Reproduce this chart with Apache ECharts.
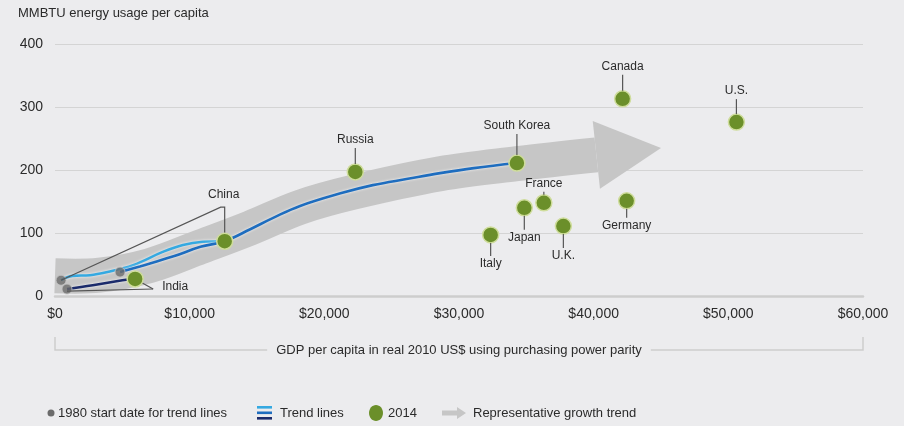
<!DOCTYPE html>
<html>
<head>
<meta charset="utf-8">
<script src="https://cdn.jsdelivr.net/npm/echarts@6/dist/echarts.min.js"></script>
<style>
  html, body { margin: 0; padding: 0; background: #ececee; }
  #chart { width: 904px; height: 426px; }
</style>
</head>
<body>
<div id="chart"></div>
<script>
// ---- Data -------------------------------------------------------------
// 2014 points: GDP per capita (real 2010 US$, PPP) and energy use (MMBTU per capita)
const countries  = ['India', 'China', 'Russia', 'South Korea', 'Canada', 'U.S.', 'Germany', 'France', 'Japan', 'U.K.', 'Italy'];
const gdp2014    = [5950, 12600, 22300, 34300, 42150, 50600, 42450, 36300, 34850, 37750, 32350];
const energy2014 = [27, 87, 197, 211, 313, 276, 151, 148, 140, 111, 97];

// Trend lines, 1980 -> 2014
const chinaGdp    = [450, 1300, 2600, 3900, 5800, 8000, 9500, 11000, 12600];
const chinaEnergy = [25, 32, 33, 38, 49, 70, 81, 86, 87];
const koreaGdp    = [4830, 6300, 8800, 10800, 12600, 14500, 16200, 18200, 21200, 23600, 26200, 28600, 31100, 34300];
const koreaEnergy = [38, 47, 63, 78, 87, 106, 124, 143, 163, 176, 186, 195, 203, 211];
const indiaGdp    = [890, 2800, 5000, 5950];
const indiaEnergy = [11, 17, 25, 27];

// Representative growth trend (centre of the wide arrow) and its tip
const growthGdp    = [0, 3300, 7000, 10800, 14500, 18200, 22200, 28600, 34300, 40200];
const growthEnergy = [32, 33, 48, 78, 108, 141, 165, 194, 210, 224];
const growthTip    = [45000, 235];

// Axis ticks
const xMax = 60000, xStep = 10000;
const yMax = 400, yStep = 100;

// ---- Styling ------------------------------------------------------------
const BG = '#ececee';
const TEXT = '#2b2b2b';
const GREEN = '#6b8f2a';
const GREEN_EDGE = '#cfdd9c';
const LIGHT_BLUE = '#35a9e1';
const MID_BLUE = '#1e6dbf';
const NAVY = '#1b2b6b';
const BAND = '#c6c6c6';
const START_DOT = '#6b6b6b';
const LEADER = '#555555';

// where each country's name sits relative to its dot: [side, distance in px]
const labelSide = {
  'Russia': ['top', 32], 'South Korea': ['top', 37], 'Canada': ['top', 32], 'U.S.': ['top', 31],
  'Germany': ['bottom', 25], 'France': ['top', 19], 'Japan': ['bottom', 30], 'U.K.': ['bottom', 30],
  'Italy': ['bottom', 29]
};

const pairs = (xs, ys) => xs.map((x, i) => [x, ys[i]]);
const DOT_R = 8;

const chart = echarts.init(document.getElementById('chart'), null, { renderer: 'canvas' });

function dot(p) {
  return { type: 'circle', shape: { cx: p[0], cy: p[1], r: DOT_R },
           style: { fill: GREEN, stroke: GREEN_EDGE, lineWidth: 1.5 } };
}
function label(text, x, y, align) {
  return { type: 'text', x: x, y: y,
           style: { text: text, fill: TEXT, font: '12px "Liberation Sans", Arial, sans-serif',
                    align: align || 'center', verticalAlign: 'middle' } };
}
function leader(points) {
  return { type: 'polyline', shape: { points: points },
           style: { stroke: LEADER, lineWidth: 1.2, fill: null } };
}

// Wide grey arrow drawn along the growth trend
function renderGrowthArrow(params, api) {
  const pts = growthGdp.map((g, i) => api.coord([g, growthEnergy[i]]));
  const tip = api.coord(growthTip);
  const last = pts[pts.length - 1];
  let dx = tip[0] - last[0], dy = tip[1] - last[1];
  const len = Math.hypot(dx, dy);
  dx /= len; dy /= len;
  const nx = -dy, ny = dx;
  const half = 34;
  return {
    type: 'group',
    children: [
      { type: 'polyline', shape: { points: pts, smooth: 0.35 },
        style: { stroke: BAND, lineWidth: 35, lineCap: 'butt', lineJoin: 'round', fill: null } },
      { type: 'polygon',
        shape: { points: [[last[0] + nx * half, last[1] + ny * half], tip, [last[0] - nx * half, last[1] - ny * half]] },
        style: { fill: BAND } }
    ]
  };
}

// 2014 dots with their names and leader lines
function renderCountry(params, api) {
  const idx = api.value(2);
  const name = countries[idx];
  const p = api.coord([api.value(0), api.value(1)]);
  const children = [];
  if (name === 'China') {
    const s = api.coord([chinaGdp[0], chinaEnergy[0]]);
    const elbowY = p[1] - 34;
    children.push(leader([s, [p[0] - 4, elbowY], [p[0], elbowY], [p[0], p[1] - DOT_R]]));
    children.push(dot(p));
    children.push(label(name, p[0] - 1, p[1] - 47));
  } else if (name === 'India') {
    const s = api.coord([indiaGdp[0], indiaEnergy[0]]);
    const j = [p[0] + 18, p[1] + 10];
    children.push(leader([p, j]));
    children.push(leader([[s[0], s[1] + 2], j]));
    children.push(dot(p));
    children.push(label(name, p[0] + 27, p[1] + 8, 'left'));
  } else {
    const side = labelSide[name];
    const sign = side[0] === 'top' ? -1 : 1;
    const d = side[1];
    children.push(dot(p));
    children.push(leader([[p[0], p[1] + sign * DOT_R], [p[0], p[1] + sign * (d - 8)]]));
    children.push(label(name, p[0], p[1] + sign * d));
  }
  return { type: 'group', children: children };
}

const trendLine = (name, xs, ys, color) => ({
  name: name, type: 'line', data: pairs(xs, ys), smooth: 0.4, showSymbol: false, z: 3,
  lineStyle: { color: color, width: 2.6, shadowColor: 'rgba(255,255,255,0.9)', shadowBlur: 3 },
  silent: true
});

const font = '"Liberation Sans", Arial, sans-serif';

const option = {
  backgroundColor: BG,
  animation: false,
  textStyle: { fontFamily: font },
  grid: { left: 55, right: 41, top: 44, bottom: 130, outerBoundsMode: 'none' },
  xAxis: {
    type: 'value', min: 0, max: xMax, interval: xStep,
    axisLine: { show: true, lineStyle: { color: '#cdcdcd', width: 2.5 } },
    axisTick: { show: false },
    splitLine: { show: false },
    axisLabel: { color: TEXT, fontSize: 14, margin: 11, fontFamily: font,
                 formatter: v => '$' + v.toLocaleString('en-US') }
  },
  yAxis: {
    type: 'value', min: 0, max: yMax, interval: yStep,
    axisLine: { show: false }, axisTick: { show: false },
    splitLine: { lineStyle: { color: '#d4d4d4', width: 1.2 } },
    axisLabel: { color: TEXT, fontSize: 14, margin: 12, fontFamily: font }
  },
  series: [
    { name: 'Representative growth trend', type: 'custom', renderItem: renderGrowthArrow,
      data: [[0, 0]], z: 1, silent: true },
    trendLine('China', chinaGdp, chinaEnergy, LIGHT_BLUE),
    trendLine('South Korea', koreaGdp, koreaEnergy, MID_BLUE),
    trendLine('India', indiaGdp, indiaEnergy, NAVY),
    { name: '1980 start date for trend lines', type: 'scatter', z: 4, silent: true,
      data: [[chinaGdp[0], chinaEnergy[0]], [koreaGdp[0], koreaEnergy[0]], [indiaGdp[0], indiaEnergy[0]]],
      symbolSize: 10, itemStyle: { color: START_DOT, borderColor: '#c4c4c4', borderWidth: 1 } },
    { name: '2014', type: 'custom', renderItem: renderCountry, z: 5, silent: true,
      data: countries.map((c, i) => [gdp2014[i], energy2014[i], i]) }
  ],
  graphic: [
    { type: 'text', left: 18, top: 7,
      style: { text: 'MMBTU energy usage per capita', fill: TEXT, font: '13px ' + font } },
    // axis title with bracket
    { type: 'polyline', shape: { points: [[55, 337], [55, 350], [863, 350], [863, 337]] },
      style: { stroke: '#cdcdcd', lineWidth: 1.5, fill: null }, z: 1 },
    { type: 'text', x: 459, y: 350, z: 2,
      style: { text: 'GDP per capita in real 2010 US$ using purchasing power parity', fill: TEXT,
               font: '13px ' + font, align: 'center', verticalAlign: 'middle',
               backgroundColor: BG, padding: [2, 9] } },
    // legend
    { type: 'circle', shape: { cx: 51, cy: 413, r: 3.5 }, style: { fill: START_DOT } },
    { type: 'text', x: 58, y: 413, style: { text: '1980 start date for trend lines', fill: TEXT,
      font: '13px ' + font, verticalAlign: 'middle' } },
    { type: 'rect', shape: { x: 257, y: 406, width: 15, height: 2.6 }, style: { fill: LIGHT_BLUE } },
    { type: 'rect', shape: { x: 257, y: 411.5, width: 15, height: 2.6 }, style: { fill: MID_BLUE } },
    { type: 'rect', shape: { x: 257, y: 417, width: 15, height: 2.6 }, style: { fill: NAVY } },
    { type: 'text', x: 280, y: 413, style: { text: 'Trend lines', fill: TEXT,
      font: '13px ' + font, verticalAlign: 'middle' } },
    { type: 'ellipse', shape: { cx: 376, cy: 413, rx: 7, ry: 8 }, style: { fill: GREEN } },
    { type: 'text', x: 388, y: 413, style: { text: '2014', fill: TEXT,
      font: '13px ' + font, verticalAlign: 'middle' } },
    { type: 'polygon', shape: { points: [[442, 410.5], [457, 410.5], [457, 407], [466, 413], [457, 419], [457, 415.5], [442, 415.5]] },
      style: { fill: BAND } },
    { type: 'text', x: 473, y: 413, style: { text: 'Representative growth trend', fill: TEXT,
      font: '13px ' + font, verticalAlign: 'middle' } }
  ]
};

chart.setOption(option);
</script>
</body>
</html>
